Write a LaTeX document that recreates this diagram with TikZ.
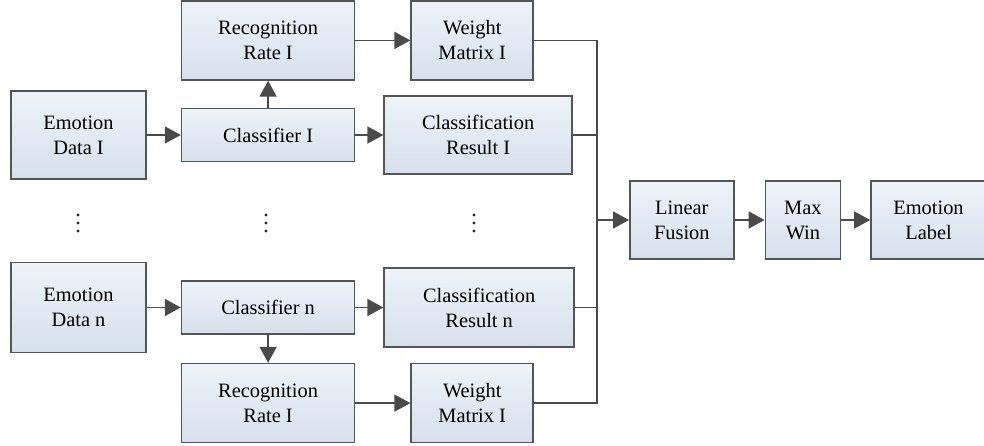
\documentclass[tikz,border=0pt]{standalone}
\usepackage{fontspec}
\setmainfont{Liberation Serif}
\usetikzlibrary{positioning, arrows.meta}

\definecolor{boxline}{HTML}{555555}
\definecolor{boxtop}{HTML}{EEF3F9}
\definecolor{boxbot}{HTML}{D6E0EC}
\definecolor{arrline}{HTML}{4A4A4A}

\tikzset{
    blk/.style={draw=boxline, line width=0.8pt, top color=boxtop, bottom color=boxbot,
        align=center, inner sep=0pt, minimum height=39.5pt,
        font=\fontsize{10.2}{12.5}\selectfont},
    arr/.style={draw=arrline, line width=0.8pt, -{Triangle[length=8pt, width=8.5pt]}},
    wire/.style={draw=arrline, line width=0.8pt}
}

\begin{document}
\begin{tikzpicture}[x=0.5pt, y=-0.5pt, node distance=17pt]
    \useasboundingbox (0,0) rectangle (984,445);
    \node[blk, minimum width=67.5pt, minimum height=44pt] (data1) at (78.5,135) {Emotion\\Data I};
    \node[blk, minimum width=86.5pt, minimum height=26.5pt, right=of data1] (clf1) {Classifier I};
    \node[blk, minimum width=86.5pt, above=13.5pt of clf1] (rate1) {Recognition\\Rate I};
    \node[blk, minimum width=61pt, right=27.5pt of rate1] (wm1) {Weight\\Matrix I};
    \node[blk, minimum width=94pt, minimum height=39pt, right=14pt of clf1] (res1) {Classification\\Result I};
    \node[blk, minimum width=67.5pt, minimum height=45pt] (datan) at (78.5,307.5) {Emotion\\Data n};
    \node[blk, minimum width=86.5pt, minimum height=26.5pt, right=of datan] (clfn) {Classifier n};
    \node[blk, minimum width=86.5pt, below=14pt of clfn] (raten) {Recognition\\Rate I};
    \node[blk, minimum width=61pt, right=27.5pt of raten] (wmn) {Weight\\Matrix I};
    \node[blk, minimum width=95pt, minimum height=39.5pt, right=14pt of clfn] (resn) {Classification\\Result n};
    \foreach \x in {78,266,474}
        \foreach \y in {215,223,231}
            \fill[black!85] (\x,\y) circle (0.8pt);
    \coordinate (bus) at (597,220);
    \node[blk, minimum width=52pt, minimum height=39pt, right=16pt of bus] (fuse) {Linear\\Fusion};
    \node[blk, minimum width=37.5pt, minimum height=39pt, right=15pt of fuse] (maxwin) {Max\\Win};
    \node[blk, minimum width=57.5pt, minimum height=39pt, right=14.5pt of maxwin] (label) {Emotion\\Label};
    \draw[arr] (data1) -- (clf1);
    \draw[arr] (clf1) -- (rate1);
    \draw[arr] (rate1) -- (wm1);
    \draw[arr] (clf1) -- (res1);
    \draw[arr] (datan) -- (clfn);
    \draw[arr] (clfn) -- (raten);
    \draw[arr] (raten) -- (wmn);
    \draw[arr] (clfn) -- (resn);
    \draw[wire] (wm1.east) -| (bus);
    \draw[wire] (res1.east) -- (res1.east -| bus);
    \draw[wire] (wmn.east) -| (bus);
    \draw[wire] (resn.east) -- (resn.east -| bus);
    \draw[arr] (bus) -- (fuse);
    \draw[arr] (fuse) -- (maxwin);
    \draw[arr] (maxwin) -- (label);
\end{tikzpicture}
\end{document}
